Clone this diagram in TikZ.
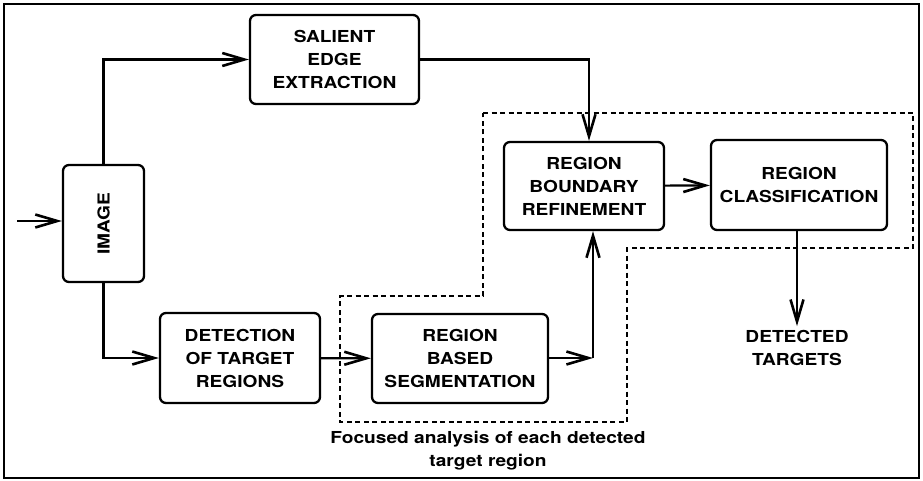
\documentclass[tikz,border=0pt]{standalone}
\usepackage{fontspec}
\setmainfont{TeX Gyre Heros}[FakeStretch=1.16]
\usepackage{tikz}
\usetikzlibrary{arrows.meta, positioning, calc}
\tikzset{>=Latex}

\begin{document}
\begin{tikzpicture}[x=1pt, y=-1pt,
    box/.style={draw, line width=2.3pt, rounded corners=6pt, align=center,
                font=\bfseries\fontsize{16.5}{23}\selectfont},
    flow/.style={line width=2.2pt, -{Straight Barb[length=22pt, width=13pt, line width=2.6pt]}},
    focus/.style={line width=1.2pt, dash pattern=on 5pt off 3.5pt},
    plain/.style={align=center, font=\bfseries\fontsize{16.5}{23}\selectfont}]

            % Rahmen und Bildgroesse
            \useasboundingbox (0,0) rectangle (923,481);
            \draw[line width=1.8pt] (4,4) rectangle (919,478);

            % Bereich der fokussierten Analyse
            \draw[focus] (483,113) -- (913,113) -- (913,248) -- (627,248)
                -- (627,422) -- (340,422) -- (340,296) -- (483,296) -- cycle;

            % Bloecke
            \node[box, minimum width=169pt, minimum height=89pt] (salient) at (334.5,59.5)
                {SALIENT\\EDGE\\EXTRACTION};
            \node[box, minimum width=81pt, minimum height=117pt] (image) at (103.5,223.5) {};
            \node[plain, rotate=90] at (image) {IMAGE};
            \node[box, minimum width=160pt, minimum height=90pt] (detect) at (240,358)
                {DETECTION\\OF TARGET\\REGIONS};
            \node[box, minimum width=176pt, minimum height=89pt] (rbs) at (460,358.5)
                {REGION\\BASED\\SEGMENTATION};
            \node[box, minimum width=160pt, minimum height=88pt] (rbr) at (584,186)
                {REGION\\BOUNDARY\\REFINEMENT};
            \node[box, minimum width=176pt, minimum height=90pt] (rc) at (799,185)
                {REGION\\CLASSIFICATION};
            \node[plain, inner sep=4pt] (targets) at (797,348) {DETECTED\\TARGETS};

            % Beschriftung
            \node[plain] (caption) at (488,451) {Focused analysis of each detected\\target region};

            % Hilfspunkte
            \coordinate (in) at (17,221);
            \coordinate (join) at (593,358);

            % Pfeile
            \draw[flow] (in) -- (in -| image.west);
            \draw[flow] (image.north) |- (salient.west);
            \draw[flow] (image.south) |- (detect.west);
            \draw[flow] (salient.east) -| ([xshift=5pt]rbr.north);
            \draw[flow] (detect) -- (rbs);
            \draw[flow] (rbs.east |- join) -- (join);
            \draw[flow] (join) -- (join |- rbr.south);
            \draw[flow] (rbr) -- (rc);
            \draw[flow] ([xshift=-2pt]rc.south) -- (targets.north);

\end{tikzpicture}
\end{document}
